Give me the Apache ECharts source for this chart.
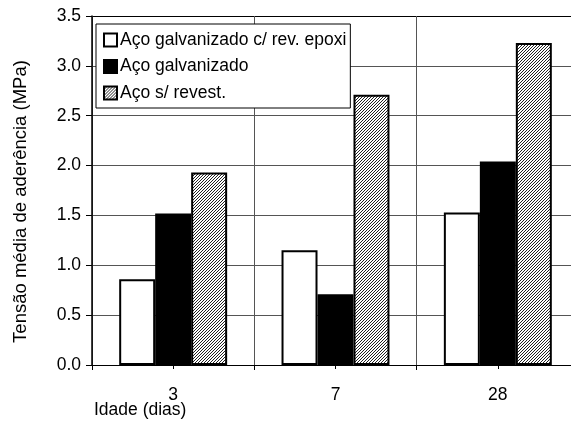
<!DOCTYPE html>
<html>
<head>
<meta charset="utf-8">
<script src="https://cdn.jsdelivr.net/npm/echarts@6/dist/echarts.min.js"></script>
<style>
  html, body { margin: 0; padding: 0; background: #fff; }
  #chart { width: 571px; height: 423px; }
</style>
</head>
<body>
<div id="chart"></div>
<script>
// Idade (dias) on the x axis
const categories = ['3', '7', '28'];
const seriesNames = ['Aço galvanizado c/ rev. epoxi', 'Aço galvanizado', 'Aço s/ revest.'];
// Tensão média de aderência (MPa)
const epoxiValues = [0.86, 1.15, 1.53];
const galvanizadoValues = [1.52, 0.71, 2.04];
const semRevestValues = [1.93, 2.71, 3.23];
const yMin = 0, yMax = 3.5, yStep = 0.5;
const xTitle = 'Idade (dias)';
const yTitle = 'Tensão média de aderência (MPa)';

const FONT = 'Liberation Sans, Arial, sans-serif';
const FS = 17.5;

// fine diagonal hatch used for the uncoated steel bars
function hatchPattern() {
  const c = document.createElement('canvas');
  c.width = 3; c.height = 3;
  const g = c.getContext('2d');
  g.fillStyle = '#ffffff';
  g.fillRect(0, 0, 3, 3);
  g.fillStyle = '#222222';
  for (let x = 0; x < 3; x++) {
    for (let y = 0; y < 3; y++) {
      if ((x + y) % 3 === 2) g.fillRect(x, y, 1, 1);
    }
  }
  return { image: c, repeat: 'repeat' };
}

const barStyles = [
  { color: '#ffffff', borderColor: '#000', borderWidth: 2 },
  { color: '#000000', borderColor: '#000', borderWidth: 2 },
  { color: hatchPattern(), borderColor: '#000', borderWidth: 2 }
];
const seriesData = [epoxiValues, galvanizadoValues, semRevestValues];

const chart = echarts.init(document.getElementById('chart'), null, { renderer: 'canvas' });

const gridLineColors = [];
for (let v = yMin; v <= yMax + 1e-9; v += yStep) gridLineColors.push('#555');
gridLineColors[gridLineColors.length - 1] = '#000';

chart.setOption({
  animation: false,
  backgroundColor: '#fff',
  textStyle: { fontFamily: FONT },
  // the plot runs past the right edge of the page
  grid: { left: 92, top: 16, width: 487, height: 349, containLabel: false, outerBoundsMode: 'none' },
  legend: {
    orient: 'vertical',
    left: 96,
    top: 24,
    padding: [7, 4, 6, 7],
    itemGap: 8.5,
    itemWidth: 13,
    itemHeight: 13,
    backgroundColor: '#fff',
    borderColor: '#000',
    borderWidth: 1,
    borderRadius: 0,
    icon: 'rect',
    textStyle: { fontFamily: FONT, fontSize: FS, color: '#000', padding: [0, 0, 0, -2] },
    data: seriesNames
  },
  graphic: [
    {
      type: 'text',
      left: 94,
      top: 401,
      style: { text: xTitle, font: FS + 'px ' + FONT, fill: '#000' }
    }
  ],
  xAxis: [
    {
      type: 'category',
      data: categories,
      boundaryGap: true,
      axisLine: { show: true, lineStyle: { color: '#000', width: 1 } },
      axisTick: { show: true, alignWithLabel: false, length: 5, lineStyle: { color: '#000' } },
      axisLabel: { fontFamily: FONT, fontSize: FS, color: '#000', margin: 21 },
      splitLine: { show: true, lineStyle: { color: '#555', width: 1 } }
    },
    {
      type: 'category',
      data: categories,
      position: 'bottom',
      boundaryGap: true,
      axisLine: { show: false },
      axisTick: { show: true, alignWithLabel: true, length: 4, lineStyle: { color: '#000' } },
      axisLabel: { show: false },
      splitLine: { show: false }
    }
  ],
  yAxis: {
    type: 'value',
    min: yMin,
    max: yMax,
    interval: yStep,
    axisLine: { show: true, lineStyle: { color: '#000', width: 1.5 } },
    axisTick: { show: true, length: 6, lineStyle: { color: '#000' } },
    axisLabel: {
      fontFamily: FONT, fontSize: FS, color: '#000', margin: 11,
      formatter: v => v.toFixed(1)
    },
    splitLine: { show: true, lineStyle: { color: gridLineColors, width: 1 } },
    name: yTitle,
    nameLocation: 'middle',
    nameGap: 62,
    nameRotate: 90,
    nameTextStyle: { fontFamily: FONT, fontSize: 18.5, color: '#000', padding: [0, 0, 0, -22] }
  },
  series: seriesNames.map((name, i) => ({
    name,
    type: 'bar',
    xAxisIndex: 0,
    data: seriesData[i],
    barGap: '0%',
    barCategoryGap: '33.5%',
    itemStyle: barStyles[i],
    z: 3
  }))
});
</script>
</body>
</html>
